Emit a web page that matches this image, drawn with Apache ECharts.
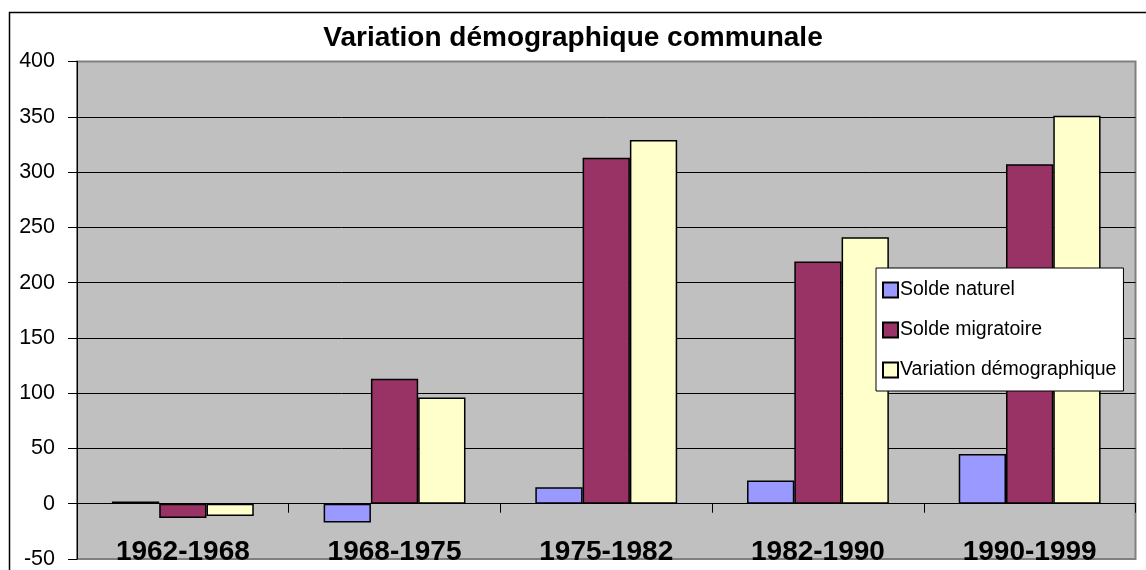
<!DOCTYPE html>
<html>
<head>
<meta charset="utf-8">
<script src="https://cdn.jsdelivr.net/npm/echarts@6/dist/echarts.min.js"></script>
<style>
html,body{margin:0;padding:0;background:#fff;}
#chart{width:1146px;height:570px;}
</style>
</head>
<body>
<div id="chart"></div>
<script>
var categories = ['1962-1968', '1968-1975', '1975-1982', '1982-1990', '1990-1999'];
var soldeNaturel = [2, -17, 15, 21, 45];
var soldeMigratoire = [-13, 113, 313, 219, 307];
var variationDemo = [-11, 96, 329, 241, 351];
var seriesNames = ['Solde naturel', 'Solde migratoire', 'Variation démographique'];
var titleText = 'Variation démographique communale';

var FONT = '"Liberation Sans", Arial, sans-serif';
var colors = ['#9999FF', '#993366', '#FFFFCC'];
var values = [soldeNaturel, soldeMigratoire, variationDemo];

var chart = echarts.init(document.getElementById('chart'), null, {renderer: 'canvas'});
var option = {
  animation: false,
  backgroundColor: '#ffffff',
  title: {
    text: titleText,
    left: 'center',
    top: 24,
    padding: 0,
    textStyle: {fontFamily: FONT, fontSize: 28, fontWeight: 'bold', color: '#000'}
  },
  legend: {
    orient: 'vertical',
    left: 876,
    top: 268,
    backgroundColor: '#ffffff',
    borderColor: '#000',
    borderWidth: 1,
    padding: [12, 7, 11, 6],
    itemWidth: 15,
    itemHeight: 15,
    itemGap: 20,
    icon: 'rect',
    textStyle: {fontFamily: FONT, fontSize: 19.5, color: '#000', padding: [0, 0, 0, -3]},
    data: seriesNames
  },
  grid: {
    left: 77, top: 61.5, width: 1058.5, height: 499.5,
    show: true,
    backgroundColor: '#C0C0C0',
    borderColor: '#808080',
    borderWidth: 2
  },
  xAxis: [{
    type: 'category',
    data: categories,
    position: 'bottom',
    axisLine: {onZero: true, lineStyle: {color: '#000', width: 1}},
    axisTick: {show: true, inside: false, length: 9, lineStyle: {color: '#000', width: 1}},
    axisLabel: {show: false},
    splitLine: {show: false}
  }, {
    type: 'category',
    data: categories,
    position: 'bottom',
    axisLine: {show: false, onZero: false},
    axisTick: {show: false},
    axisLabel: {show: true, margin: -21, fontFamily: FONT, fontSize: 28, fontWeight: 'bold', color: '#000'},
    splitLine: {show: false}
  }],
  yAxis: {
    type: 'value',
    min: -50, max: 400, interval: 50,
    axisLine: {show: true, onZero: false, lineStyle: {color: '#000', width: 1}},
    axisTick: {show: true, inside: false, length: 9, lineStyle: {color: '#000', width: 1}},
    axisLabel: {margin: 22, fontFamily: FONT, fontSize: 21.5, color: '#000'},
    splitLine: {show: true, showMinLine: false, showMaxLine: false, lineStyle: {color: '#000', width: 1}}
  },
  series: seriesNames.map(function (name, i) {
    return {
      name: name,
      type: 'bar',
      xAxisIndex: 0,
      data: values[i],
      barGap: '0%',
      barCategoryGap: '33%',
      itemStyle: {color: colors[i], borderColor: '#000', borderWidth: 1.5}
    };
  }),
  graphic: [{
    type: 'rect',
    silent: true,
    z: 100,
    shape: {x: 9.5, y: 12.5, width: 1200, height: 700},
    style: {fill: null, stroke: '#000', lineWidth: 1.5}
  }]
};
chart.setOption(option);
</script>
</body>
</html>
